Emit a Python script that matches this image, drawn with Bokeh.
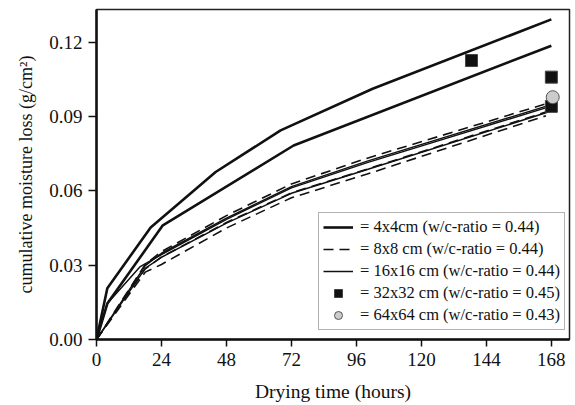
from bokeh.plotting import figure
from bokeh.models import Range1d, FixedTicker, Legend, LegendItem, CustomJSTickFormatter
from bokeh.embed import file_html
from bokeh.resources import INLINE

# ---- data ----
hours_4x4_a = [0, 4, 20, 44, 68, 102, 168]
loss_4x4_a = [0, 0.0207, 0.0452, 0.0676, 0.0844, 0.1012, 0.1292]
hours_4x4_b = [0, 4, 24.5, 72.8, 168]
loss_4x4_b = [0, 0.0145, 0.0461, 0.0783, 0.1186]

hours_8x8_a = [0, 18, 24, 48, 72, 100, 168]
loss_8x8_a = [0, 0.0303, 0.0355, 0.0500, 0.0628, 0.0732, 0.0958]
hours_8x8_b = [0, 18, 24, 48, 72, 100, 168]
loss_8x8_b = [0, 0.0285, 0.0333, 0.0472, 0.0592, 0.0688, 0.0925]
hours_8x8_c = [0, 18, 24, 48, 72, 100, 166]
loss_8x8_c = [0, 0.0272, 0.0303, 0.0450, 0.0572, 0.0668, 0.0903]

hours_16x16_a = [0, 18, 24, 48, 72, 100, 168]
loss_16x16_a = [0, 0.0298, 0.0348, 0.0490, 0.0617, 0.0720, 0.0948]
hours_16x16_b = [0, 4, 16, 24, 48, 72, 100, 168]
loss_16x16_b = [0, 0.0145, 0.0293, 0.0343, 0.0485, 0.0612, 0.0714, 0.0942]
hours_16x16_c = [0, 18, 24, 48, 72, 100, 168]
loss_16x16_c = [0, 0.0287, 0.0332, 0.0470, 0.0590, 0.0686, 0.0922]

hours_32x32 = [138.5, 168, 168]
loss_32x32 = [0.1126, 0.1059, 0.0941]
hours_64x64 = [168.5]
loss_64x64 = [0.0978]

x_ticks = [0, 24, 48, 72, 96, 120, 144, 168]
y_ticks = [0.0, 0.03, 0.06, 0.09, 0.12]

legend_labels = [
    "= 4x4cm (w/c-ratio = 0.44)",
    "= 8x8 cm (w/c-ratio = 0.44)",
    "= 16x16 cm (w/c-ratio = 0.44)",
    "= 32x32 cm (w/c-ratio = 0.45)",
    "= 64x64 cm (w/c-ratio = 0.43)",
]

FONT = "Liberation Serif"
INK = "#111111"

p = figure(width=575, height=405, output_backend="svg", toolbar_location=None,
           x_range=Range1d(0, 174.7), y_range=Range1d(0, 0.1332),
           min_border_left=96, min_border_right=6, min_border_top=9, min_border_bottom=66)
p.background_fill_color = "white"
p.border_fill_color = "white"
p.grid.visible = False
p.outline_line_color = "#222222"
p.outline_line_width = 1.5

thick = dict(line_color=INK, line_width=2.6)
thin = dict(line_color=INK, line_width=1.5)
dash = dict(line_color=INK, line_width=1.6, line_dash="10 6")

r4a = p.line(hours_4x4_a, loss_4x4_a, **thick)
p.line(hours_4x4_b, loss_4x4_b, **thick)
r16 = p.line(hours_16x16_a, loss_16x16_a, **thin)
p.line(hours_16x16_b, loss_16x16_b, **thin)
p.line(hours_16x16_c, loss_16x16_c, **thin)
r8 = p.line(hours_8x8_a, loss_8x8_a, **dash)
p.line(hours_8x8_b, loss_8x8_b, **dash)
p.line(hours_8x8_c, loss_8x8_c, **dash)

r32 = p.scatter(hours_32x32, loss_32x32, marker="square", size=12,
                fill_color=INK, line_color="#444444", line_width=1)
r64 = p.scatter(hours_64x64, loss_64x64, marker="circle", size=13,
                fill_color="#cccccc", line_color="#555555", line_width=1)

legend = Legend(items=[
    LegendItem(label=legend_labels[0], renderers=[r4a]),
    LegendItem(label=legend_labels[1], renderers=[r8]),
    LegendItem(label=legend_labels[2], renderers=[r16]),
    LegendItem(label=legend_labels[3], renderers=[r32]),
    LegendItem(label=legend_labels[4], renderers=[r64]),
], location=(222, 9))
legend.label_text_font = FONT
legend.label_text_font_size = "16.5px"
legend.label_text_color = INK
legend.label_standoff = 7
legend.glyph_width = 30
legend.glyph_height = 20
legend.label_height = 20
legend.spacing = 2
legend.padding = 4
legend.margin = 0
legend.border_line_color = "#666666"
legend.border_line_width = 1
legend.background_fill_color = "white"
legend.background_fill_alpha = 1
p.add_layout(legend, "center")

for ax in (p.xaxis[0], p.yaxis[0]):
    ax.axis_line_color = INK
    ax.axis_line_width = 2.5
    ax.major_tick_line_color = INK
    ax.major_tick_line_width = 1.5
    ax.major_tick_in = 0
    ax.minor_tick_line_color = None
    ax.major_label_text_font = FONT
    ax.major_label_text_font_size = "19px"
    ax.major_label_text_color = INK
    ax.axis_label_text_font = FONT
    ax.axis_label_text_font_style = "normal"
    ax.axis_label_text_color = INK

p.xaxis[0].ticker = FixedTicker(ticks=x_ticks)
p.xaxis[0].major_tick_out = 7
p.xaxis[0].major_label_standoff = 6
p.xaxis[0].axis_label = "Drying time (hours)"
p.xaxis[0].axis_label_text_font_size = "19.5px"
p.xaxis[0].axis_label_standoff = 12

p.yaxis[0].ticker = FixedTicker(ticks=y_ticks)
p.yaxis[0].formatter = CustomJSTickFormatter(code="return tick.toFixed(2);")
p.yaxis[0].major_tick_out = 8
p.yaxis[0].major_label_standoff = 6
p.yaxis[0].axis_label = "cumulative moisture loss (g/cm\u00b2)"
p.yaxis[0].axis_label_text_font_size = "18px"
p.yaxis[0].axis_label_standoff = 10

open("out.html", "w").write(file_html(p, INLINE))
